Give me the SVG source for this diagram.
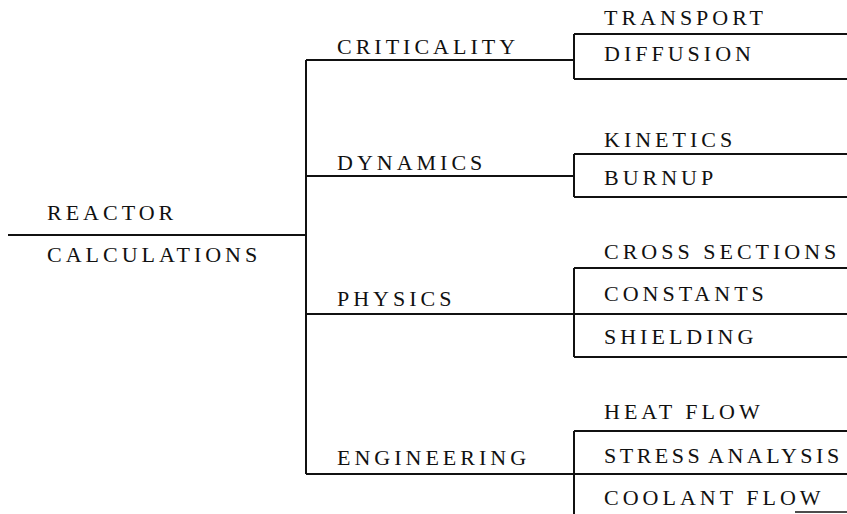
<svg xmlns="http://www.w3.org/2000/svg" width="847" height="514" viewBox="0 0 847 514">
<style>
text{font-family:"Liberation Serif","DejaVu Serif",serif;font-size:22px;letter-spacing:4px;fill:#111;}
.ln{stroke:#111;stroke-width:2;fill:none;}
</style>
<rect width="847" height="514" fill="#fff"/>
<g id="connectors" class="ln">
<path d="M8 235H306M306 60V474"/>
<path d="M306 60H574M306 176H574M306 314H574M306 474H574"/>
<path d="M574 34V79M574 154V197M574 268V357M574 431V514"/>
<path d="M574 34H847M574 79H847M574 154H847M574 197H847M574 268H847M574 314H847M574 357H847M574 431H847M574 474H847"/>
<path d="M795 512H847" stroke-width="1.5"/>
</g>
<g id="reactor-calculations"><text x="47" y="220">REACTOR</text><text x="47" y="262">CALCULATIONS</text></g>
<g id="criticality"><text x="337" y="54">CRITICALITY</text></g>
<g id="dynamics"><text x="337" y="170">DYNAMICS</text></g>
<g id="physics"><text x="337" y="306">PHYSICS</text></g>
<g id="engineering"><text x="337" y="465">ENGINEERING</text></g>
<g id="transport"><text x="604" y="25">TRANSPORT</text></g>
<g id="diffusion"><text x="604" y="61">DIFFUSION</text></g>
<g id="kinetics"><text x="604" y="147">KINETICS</text></g>
<g id="burnup"><text x="604" y="185">BURNUP</text></g>
<g id="cross-sections"><text x="604" y="259">CROSS SECTIONS</text></g>
<g id="constants"><text x="604" y="301">CONSTANTS</text></g>
<g id="shielding"><text x="604" y="344">SHIELDING</text></g>
<g id="heat-flow"><text x="604" y="419">HEAT FLOW</text></g>
<g id="stress-analysis"><text x="604" y="463" style="letter-spacing:3.5px;word-spacing:-3px">STRESS ANALYSIS</text></g>
<g id="coolant-flow"><text x="604" y="505">COOLANT FLOW</text></g>
</svg>
